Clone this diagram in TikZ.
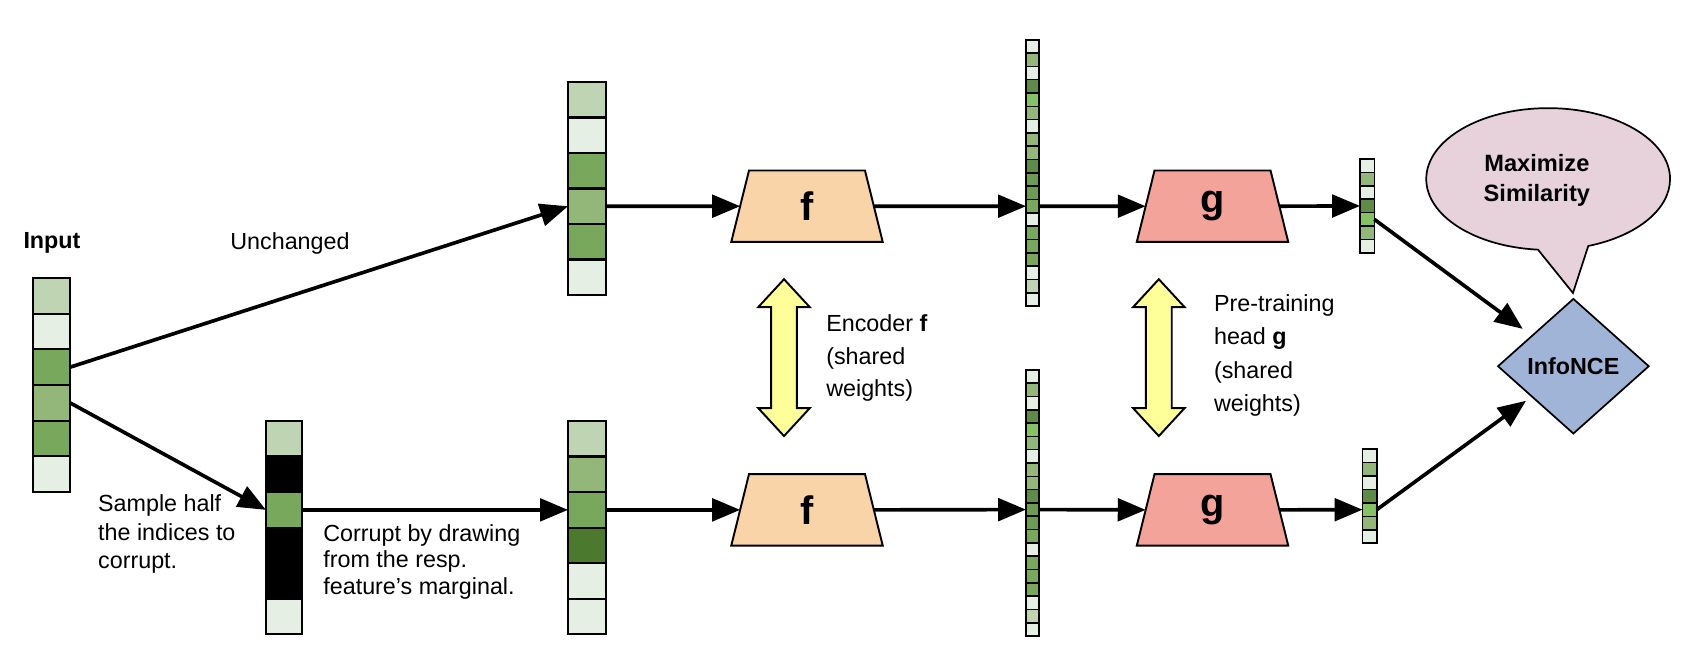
\documentclass[tikz,border=0pt]{standalone}
\usepackage{fontspec}
\setmainfont{Liberation Sans}
\usetikzlibrary{shapes.geometric,shapes.callouts,arrows.meta}
\definecolor{cL}{HTML}{E6EFE3}
\definecolor{cP}{HTML}{BED4B2}
\definecolor{cM}{HTML}{93B778}
\definecolor{cG}{HTML}{78A85C}
\definecolor{cD}{HTML}{4B7A2E}
\definecolor{cT}{HTML}{5F8B49}
\definecolor{cB}{HTML}{84C263}
\definecolor{cH}{HTML}{6C9C52}
\definecolor{cK}{HTML}{000000}
\definecolor{fcol}{HTML}{F9D4A8}
\definecolor{gcol}{HTML}{F4A39B}
\definecolor{ncecol}{HTML}{A0B4D7}
\definecolor{bubcol}{HTML}{E7D2DC}
\definecolor{yel}{HTML}{FFFF99}
% name, center x, top y, width, cell height (units), colours, style
\newcommand{\cellvec}[7]{%
  \foreach \cc [count=\i] in {#6} {%
    \node[#7, minimum width=#4, minimum height={#5*0.5pt}, fill=\cc] (#1-\i) at (#2, {#3+(\i-0.5)*#5}) {};
  }}
\newcommand{\yarrow}[4]{% name, cx, top, bottom
  \draw[yarr] (#2,#3) -- ++(24,26) -- ++(-12,0) -- (#2+12,#4-26) -- ++(12,0) -- (#2,#4)
    -- ++(-24,-26) -- ++(12,0) -- (#2-12,#3+26) -- ++(-12,0) -- cycle;
  \coordinate (#1) at (#2,{(#3+#4)/2});}
\newcommand{\trapz}[5]{% name, cx, cy, fill, label
  \draw[trapline, fill=#4] (#2-70.5,#3+33.25) -- (#2-54,#3-33.25) -- (#2+54,#3-33.25)
    -- (#2+70.5,#3+33.25) -- cycle;
  \node[traplab] (#1) at (#2,#3) {#5};
  \coordinate (#1-w) at (#2-62.25,#3);
  \coordinate (#1-e) at (#2+62.25,#3);}
\begin{document}
\begin{tikzpicture}[x=0.5pt,y=-0.5pt,
  bigcell/.style={draw, inner sep=0pt, outer sep=0pt, line width=1pt},
  smallcell/.style={draw, inner sep=0pt, outer sep=0pt, line width=0.75pt},
  conn/.style={line width=1.7pt, -{Triangle[length=13pt,width=10.5pt]}},
  txt/.style={inner sep=0pt, align=left, anchor=west},
  trapline/.style={draw, line width=0.9pt, line join=miter},
  traplab/.style={inner sep=0pt, font=\fontsize{18.5pt}{20pt}\selectfont\bfseries},
  yarr/.style={draw, fill=yel, line width=0.9pt, line join=miter},
]
\useasboundingbox (0,0) rectangle (1568,603.4);
\fontsize{10.85pt}{13pt}\selectfont

% input
\node[inner sep=0pt, font=\bfseries] (inlab) at (48.4,226) {Input};
\cellvec{in}{48}{258.9}{17.25pt}{33.2}{cP,cL,cG,cM,cG,cL}{bigcell}
\node[inner sep=0pt] (unch) at (270,227) {Unchanged};

% top (unchanged) view
\cellvec{tv}{546.5}{76.3}{17.65pt}{33.07}{cP,cL,cG,cM,cG,cL}{bigcell}
% sampled mask
\cellvec{sv}{264.4}{392}{16.75pt}{33.1}{cP,cK,cG,cK,cK,cL}{bigcell}
% corrupted view
\cellvec{cv}{546.5}{392}{17.65pt}{33.1}{cP,cM,cG,cD,cL,cL}{bigcell}

\node[txt, font=\fontsize{10.85pt}{13.25pt}\selectfont] (samp) at (91,497.5) {Sample half\\the indices to\\corrupt.};
\node[txt, font=\fontsize{10.85pt}{12.4pt}\selectfont] (corr) at (300.7,523) {Corrupt by drawing\\from the resp.\\feature’s marginal.};

\draw[conn] (in-3.east) -- (tv-4.west);
\draw[conn] (in-4.east) -- (sv-3.west);
\draw[conn] (sv-3.east) -- (cv-3.west);

% encoders
\trapz{ft}{751.4}{192}{fcol}{f}
\trapz{fb}{751.4}{474.75}{fcol}{f}
\draw[conn] (tv-4.east) -- (ft-w);
\draw[conn] (cv-3.east) -- (fb-w);

% embeddings
\cellvec{et}{961.4}{37}{6.05pt}{12.4}{cL,cM,cL,cT,cB,cM,cL,cM,cM,cT,cH,cH,cG,cL,cG,cG,cG,cL,cP,cL}{smallcell}
\cellvec{eb}{961.4}{344.3}{6.05pt}{12.4}{cL,cM,cL,cT,cB,cM,cL,cM,cM,cT,cH,cH,cG,cL,cG,cG,cG,cL,cP,cL}{smallcell}
\draw[conn] (ft-e) -- (et-13.west);
\draw[conn] (fb-e) -- (eb-11.west);

% heads
\trapz{gt}{1129}{192}{gcol}{g}
\trapz{gb}{1129}{474.75}{gcol}{g}
\draw[conn] (et-13.east) -- (gt-w);
\draw[conn] (eb-11.east) -- (gb-w);

% projections
\cellvec{pt}{1273}{148}{6.65pt}{12.5}{cL,cM,cL,cT,cB,cM,cL}{smallcell}
\cellvec{pb}{1275.3}{418.3}{6.65pt}{12.5}{cL,cM,cL,cT,cB,cM,cL}{smallcell}
\draw[conn] (gt-e) -- (pt-4.west);
\draw[conn] (gb-e) -- (pb-5.west);

% shared-weight arrows
\yarrow{ya}{730}{260}{406}
\yarrow{yb}{1079}{260}{406}
\node[txt, font=\fontsize{10.85pt}{15.25pt}\selectfont] (enc) at (769,333.5) {Encoder \textbf{f}\\(shared\\weights)};
\node[txt, font=\fontsize{10.85pt}{15.5pt}\selectfont] (pre) at (1130,331) {Pre-training\\head \textbf{g}\\(shared\\weights)};

% loss
\node[diamond, draw, fill=ncecol, line width=0.8pt, minimum width=70.5pt, minimum height=63pt,
  inner sep=0pt, font=\bfseries] (nce) at (1465,341) {InfoNCE};
\draw[conn, shorten >=5pt] (pt-5.east) -- (nce);
\draw[conn, shorten >=3pt] (pb-5.east) -- (nce);

% speech bubble
\node[ellipse callout, draw, fill=bubcol, line width=0.8pt, minimum width=113.5pt, minimum height=66pt,
  callout absolute pointer={(1464.6,272.8)}, callout pointer arc=24, inner sep=0pt] (bub) at (1441.5,166.7) {};
\node[inner sep=0pt, align=center, font=\fontsize{11pt}{14pt}\selectfont\bfseries] (bubtxt) at (1431,167.6) {Maximize\\Similarity};
\end{tikzpicture}
\end{document}
